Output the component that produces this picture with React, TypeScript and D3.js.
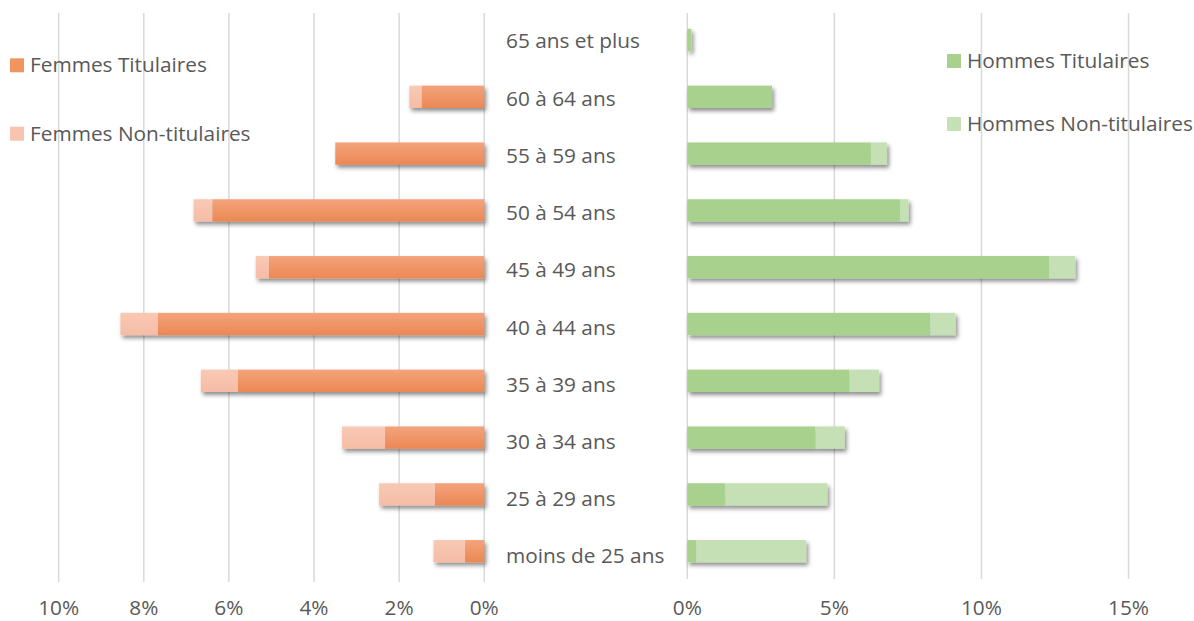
import React from "react";
import * as d3 from "d3";

const categories = [
  "65 ans et plus",
  "60 à 64 ans",
  "55 à 59 ans",
  "50 à 54 ans",
  "45 à 49 ans",
  "40 à 44 ans",
  "35 à 39 ans",
  "30 à 34 ans",
  "25 à 29 ans",
  "moins de 25 ans",
];

// Shares of total staff, in percent
const femmesTitulaires = [0, 1.47, 3.5, 6.39, 5.06, 7.67, 5.79, 2.33, 1.16, 0.45];
const femmesNonTitulaires = [0, 0.29, 0, 0.44, 0.31, 0.88, 0.87, 1.01, 1.31, 0.74];
const hommesTitulaires = [0.14, 2.88, 6.24, 7.23, 12.3, 8.26, 5.51, 4.36, 1.29, 0.3];
const hommesNonTitulaires = [0, 0, 0.55, 0.29, 0.89, 0.86, 1.01, 0.99, 3.47, 3.74];

const femmesTicks = [10, 8, 6, 4, 2, 0];
const hommesTicks = [0, 5, 10, 15];

const W = 1194;
const H = 621;
const FONT = "'Open Sans', sans-serif";
const FS = 20.8;
const TEXT = "#595959";
const GRID = "#D9D9D9";

const C_FT = "#F0955F";
const C_FN = "#F8C4AF";
const C_HT = "#A9D18E";
const C_HN = "#C5E0B4";

export default function App() {
  const xF = d3.scaleLinear().domain([0, 10]).range([484.2, 58.7]);
  const xH = d3.scaleLinear().domain([0, 15]).range([687.3, 1128.5]);
  const y = d3
    .scaleBand<string>()
    .domain(categories)
    .range([11.6, 579.6])
    .paddingInner(0.607)
    .paddingOuter(0.3035);
  const bh = y.bandwidth();
  // category label column
  const yLabel = d3.scalePoint<string>().domain(categories).range([41, 556]);

  return (
    <div style={{ position: "fixed", left: 0, top: 0, width: W, height: H }}>
      <svg width={W} height={H} style={{ display: "block", background: "#fff" }}>
        <defs>
          <filter id="shadow" x="-10%" y="-50%" width="130%" height="250%">
            <feDropShadow dx="2" dy="3" stdDeviation="2" floodColor="#000" floodOpacity="0.45" />
          </filter>
          <linearGradient id="gradFT" x1="0" y1="0" x2="0" y2="1">
            <stop offset="0" stopColor="#F4A37C" />
            <stop offset="1" stopColor="#EB8854" />
          </linearGradient>
          <linearGradient id="gradFN" x1="0" y1="0" x2="0" y2="1">
            <stop offset="0" stopColor="#F9C9B5" />
            <stop offset="1" stopColor="#F5BCA5" />
          </linearGradient>
        </defs>

        {/* gridlines */}
        {femmesTicks.map((t) => (
          <line key={"gf" + t} x1={xF(t)} x2={xF(t)} y1={13} y2={582} stroke={GRID} strokeWidth={1.5} />
        ))}
        {hommesTicks.map((t) => (
          <line key={"gh" + t} x1={xH(t)} x2={xH(t)} y1={13} y2={579} stroke={GRID} strokeWidth={1.5} />
        ))}

        {/* women bars */}
        <g filter="url(#shadow)">
          {categories.map((c, i) => {
            const t = femmesTitulaires[i];
            const n = femmesNonTitulaires[i];
            const y0 = y(c) as number;
            return (
              <g key={"f" + c}>
                {t > 0 && (
                  <rect x={xF(t)} y={y0} width={xF(0) - xF(t)} height={bh} fill="url(#gradFT)" />
                )}
                {n > 0 && (
                  <rect x={xF(t + n)} y={y0} width={xF(t) - xF(t + n)} height={bh} fill="url(#gradFN)" />
                )}
              </g>
            );
          })}
        </g>

        {/* men bars */}
        <g filter="url(#shadow)">
          {categories.map((c, i) => {
            const t = hommesTitulaires[i];
            const n = hommesNonTitulaires[i];
            const y0 = y(c) as number;
            return (
              <g key={"h" + c}>
                {t > 0 && <rect x={xH(0)} y={y0} width={xH(t) - xH(0)} height={bh} fill={C_HT} />}
                {n > 0 && <rect x={xH(t)} y={y0} width={xH(t + n) - xH(t)} height={bh} fill={C_HN} />}
              </g>
            );
          })}
        </g>

        {/* category labels */}
        {categories.map((c) => (
          <text
            key={"l" + c}
            x={506}
            y={yLabel(c) as number}
            dy="0.36em"
            fontFamily={FONT}
            fontSize={FS}
            fill={TEXT}
          >
            {c}
          </text>
        ))}

        {/* axis labels */}
        {femmesTicks.map((t) => (
          <text key={"tf" + t} x={xF(t)} y={615} textAnchor="middle" fontFamily={FONT} fontSize={FS} fill={TEXT}>
            {t + "%"}
          </text>
        ))}
        {hommesTicks.map((t) => (
          <text key={"th" + t} x={xH(t)} y={615} textAnchor="middle" fontFamily={FONT} fontSize={FS} fill={TEXT}>
            {t + "%"}
          </text>
        ))}

        {/* legends */}
        <rect x={10} y={58.3} width={14} height={14} fill={C_FT} />
        <text x={30} y={72} fontFamily={FONT} fontSize={FS} fill={TEXT}>Femmes Titulaires</text>
        <rect x={10} y={126.7} width={14} height={14} fill={C_FN} />
        <text x={30} y={140.5} fontFamily={FONT} fontSize={FS} fill={TEXT}>Femmes Non-titulaires</text>

        <rect x={947} y={54} width={14} height={14} fill={C_HT} />
        <text x={967} y={68} fontFamily={FONT} fontSize={FS} fill={TEXT}>Hommes Titulaires</text>
        <rect x={947} y={117} width={14} height={14} fill={C_HN} />
        <text x={967} y={131} fontFamily={FONT} fontSize={FS} fill={TEXT}>Hommes Non-titulaires</text>
      </svg>
    </div>
  );
}
